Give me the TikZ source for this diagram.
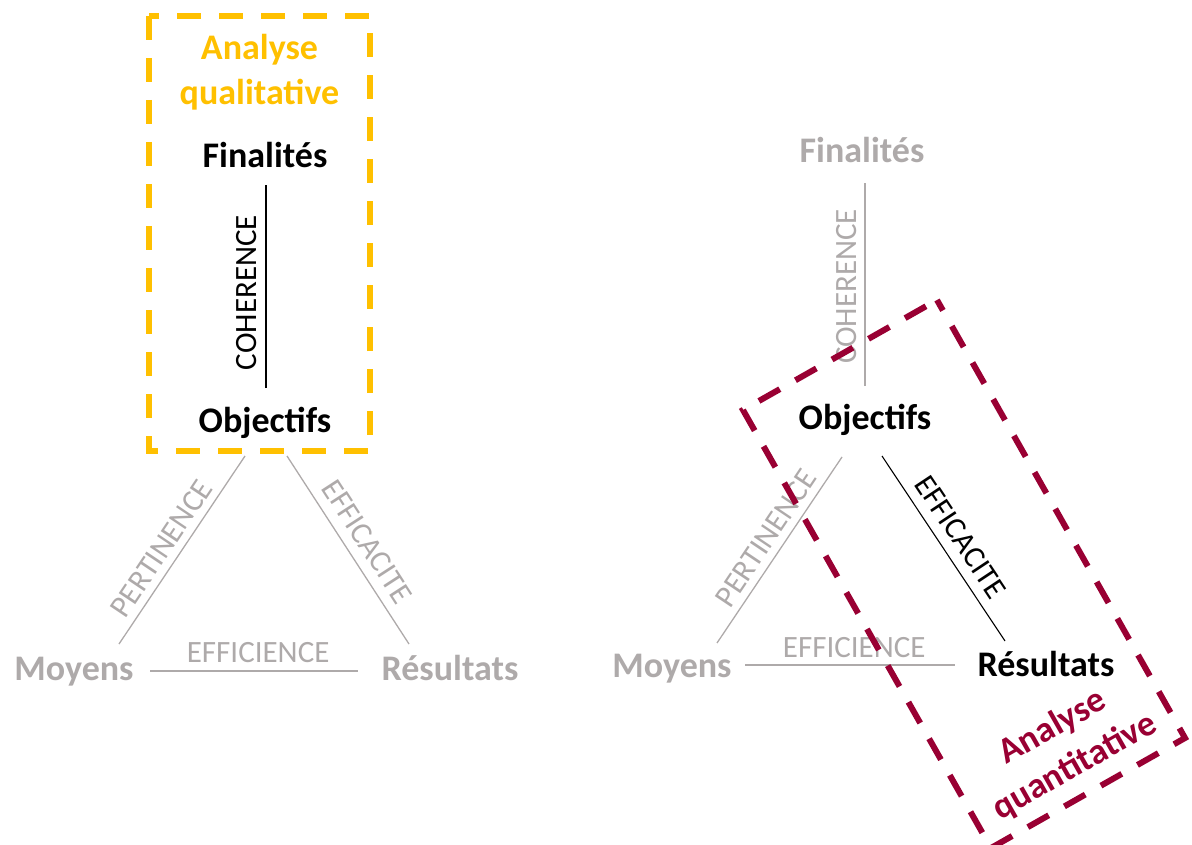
\documentclass[tikz,border=0pt]{standalone}
\usepackage{fontspec}
\setmainfont{Carlito}
\usetikzlibrary{calc}
\definecolor{qualyellow}{HTML}{FFC000}
\definecolor{quantred}{HTML}{990033}
\definecolor{softgray}{HTML}{AEAAAA}
\begin{document}
\begin{tikzpicture}[x=1pt,y=-1pt,
  term/.style={font=\fontsize{36}{45}\selectfont\bfseries, inner sep=0pt, anchor=base},
  crit/.style={font=\fontsize{31}{37}\selectfont, sloped, anchor=south, inner xsep=0pt, inner ysep=#1},
  crit/.default=8pt,
  critv/.style={font=\fontsize{31}{37}\selectfont, rotate=90, anchor=south, inner xsep=0pt, inner ysep=#1},
  critv/.default=8pt,
  graylink/.style={line width=1.3pt, draw=softgray, text=softgray},
  blacklink/.style={line width=1.1pt, draw=black, text=black},
  frame/.style={line width=6pt, dash pattern=on 24pt off 18pt}
]
\useasboundingbox (0,0) rectangle (1192,845);

% ---------- left diagram ----------
\node[term, text=qualyellow, align=center, anchor=center] (qual) at (259.5,72) {Analyse\\qualitative};
\node[term] (fin1) at (265,168) {Finalités};
\node[term] (obj1) at (265,432) {Objectifs};
\node[term, text=softgray] (moy1) at (74,680) {Moyens};
\node[term, text=softgray] (res1) at (450,680) {Résultats};

\draw[blacklink] ($(obj1.base)+(1,-44)$) -- node[critv=9pt, pos=0.47] {COHERENCE} ($(fin1.base)+(1,17)$);
\draw[graylink] ($(moy1.base)+(45,-36)$) -- node[crit=7pt, pos=0.455] {PERTINENCE} ($(obj1.base)+(-20,24)$);
\draw[graylink] ($(obj1.base)+(22,24)$) -- node[crit=10pt, pos=0.515] {EFFICACITE} ($(res1.base)+(-41,-36)$);
\draw[graylink] ($(moy1.base)+(76,-9)$) -- node[crit=8pt, pos=0.52] {EFFICIENCE} ($(res1.base)+(-92,-9)$);

\draw[frame, qualyellow] (149,16) rectangle (370,451);

% ---------- right diagram ----------
\node[term, text=softgray] (fin2) at (862,163) {Finalités};
\node[term] (obj2) at (865,429) {Objectifs};
\node[term, text=softgray] (moy2) at (672,677) {Moyens};
\node[term] (res2) at (1046,676) {Résultats};

\draw[graylink] ($(obj2.base)+(0,-43)$) -- node[critv=8pt, pos=0.49] {COHERENCE} ($(fin2.base)+(3,20)$);
\draw[graylink] ($(moy2.base)+(45,-34)$) -- node[crit=7pt, pos=0.51] {PERTINENCE} ($(obj2.base)+(-23,28)$);
\draw[blacklink] ($(obj2.base)+(17,27)$) -- node[crit=10pt, pos=0.5] {EFFICACITE} ($(res2.base)+(-41,-35)$);
\draw[graylink] ($(moy2.base)+(73,-12)$) -- node[crit=7pt, pos=0.52] {EFFICIENCE} ($(res2.base)+(-91,-11)$);

\node[term, text=quantred, align=center, anchor=center, rotate=29.6] (quant) at (1064,747) {Analyse\\quantitative};
\draw[frame, quantred, dash phase=12pt] (937,300) -- (1185,738) -- (991,848) -- (743,410) -- cycle;
\end{tikzpicture}
\end{document}
